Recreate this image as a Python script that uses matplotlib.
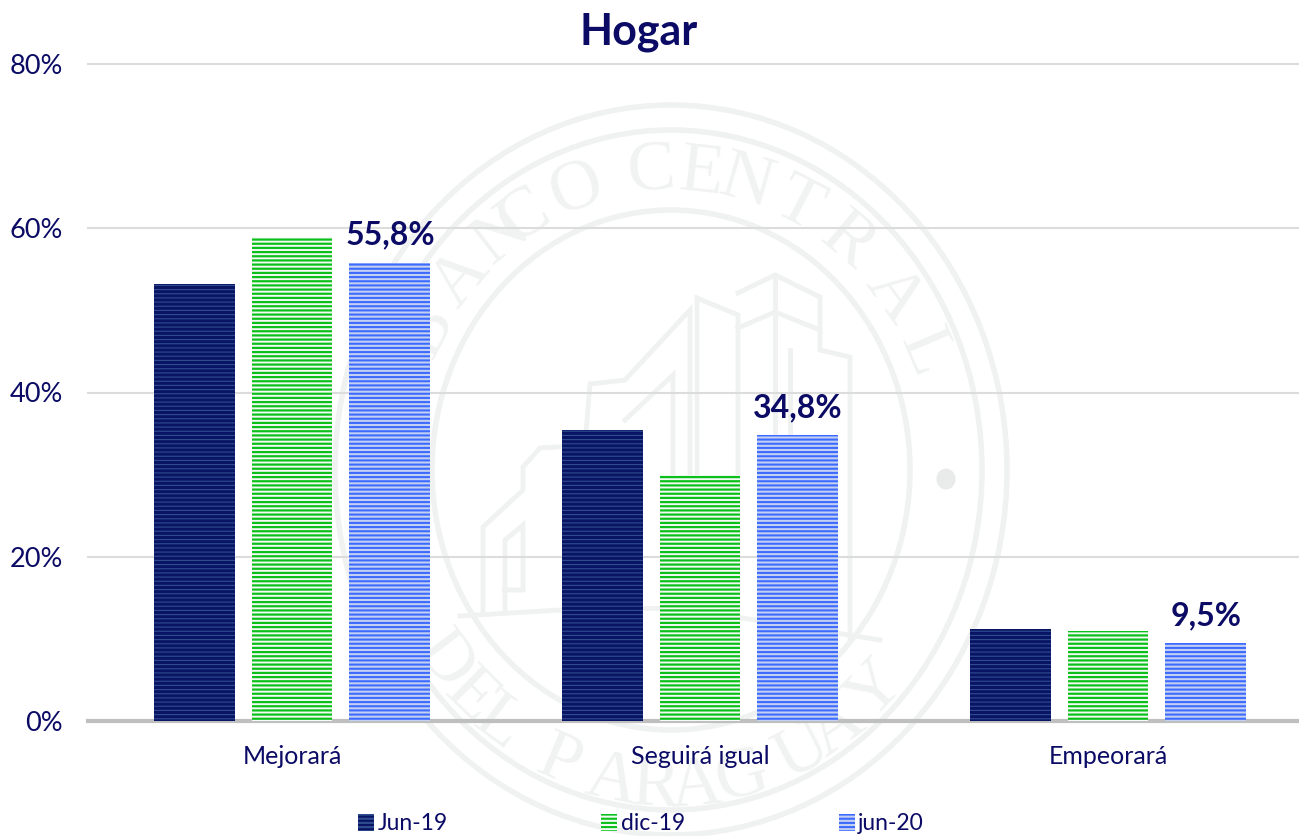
import matplotlib
matplotlib.use("Agg")
import matplotlib.pyplot as plt
from matplotlib.patches import Ellipse
import numpy as np

# Data
categories = ["Mejorará", "Seguirá igual", "Empeorará"]
series_names = ["Jun-19", "dic-19", "jun-20"]
jun19 = [53.2, 35.4, 11.2]
dic19 = [58.9, 29.9, 11.0]
jun20 = [55.8, 34.8, 9.5]
y_ticks = [0, 20, 40, 60, 80]
labels_jun20 = ["55,8%", "34,8%", "9,5%"]

# Style
W, H = 1299, 836
navy = "#0b0b66"
wm = "#eff2f1"
wm_text = "#f1f3f2"
plt.rcParams["font.family"] = ["Lato", "DejaVu Sans"]

fig = plt.figure(figsize=(W / 100, H / 100), dpi=100)
fig.patch.set_facecolor("white")

# Watermark seal, drawn in pixel coordinates behind the chart
bg = fig.add_axes([0, 0, 1, 1], zorder=0)
bg.set_xlim(0, W)
bg.set_ylim(H, 0)
bg.axis("off")
cx, cy = 671, 470
for rx, ry in [(336, 365), (311, 340), (239, 260)]:
    bg.add_patch(Ellipse((cx, cy), 2 * rx, 2 * ry, fill=False, ec=wm, lw=4))
bg.add_patch(Ellipse((946, 479), 19, 21, fc="#e9ebea", ec="none"))


def arc_text(word, angles, rx, ry, top=True):
    for ch, a in zip(word, angles):
        t = np.radians(a)
        x = cx + rx * np.sin(t)
        y = cy - ry * np.cos(t)
        rot = -a if top else 180 - a
        bg.text(x, y, ch, color=wm_text, fontsize=52, family="Liberation Serif",
                ha="center", va="center", rotation=rot, rotation_mode="anchor")


arc_text("BANCOCENTRAL", [-62, -50, -38, -32, -20, -4, 6.5, 16, 27.5, 40, 54, 67], 275, 298)
arc_text("DELPARAGUAY", [233, 224.5, 217, 203, 192, 183, 175, 165.5, 152.5, 144.5, 134],
         285, 318, top=False)

buildings = [
    [(483, 613), (483, 527), (523, 490), (523, 467), (540, 448), (590, 445)],
    [(505, 613), (505, 540), (523, 525), (523, 590), (505, 590)],
    [(585, 445), (590, 384), (625, 380), (690, 310), (690, 600)],
    [(625, 420), (673, 375), (673, 610)],
    [(697, 600), (697, 298), (738, 315), (738, 600)],
    [(738, 293), (775, 275), (820, 297), (820, 330), (775, 312), (738, 328)],
    [(775, 275), (775, 600)],
    [(820, 330), (820, 350), (850, 357), (850, 640)],
    [(790, 350), (790, 640)],
]
for b in buildings:
    xs, ys = zip(*b)
    bg.plot(xs, ys, color=wm, lw=3.5, solid_joinstyle="miter")
bg.plot([460, 560, 680, 880], [616, 610, 608, 640], color=wm, lw=3.5)

# Chart axes: x range runs slightly past the right edge like the reference
ax = fig.add_axes([88 / W, (H - 721) / H, 1224 / W, (721 - 64) / H], zorder=1)
ax.patch.set_alpha(0)
x = np.arange(len(categories))
bar_w = 0.1985
off = 0.24
styles = [("#0a1464", "#2f4d8f", 0.8), ("#f4fbf4", "#0cc01c", 1.6), ("#c3d0f2", "#3d6bff", 1.5)]
all_series = [jun19, dic19, jun20]
bars = []
for i, vals in enumerate(all_series):
    face, stripe, hatch_w = styles[i]
    plt.rcParams["hatch.linewidth"] = hatch_w
    b = ax.bar(x + (i - 1) * off, vals, bar_w, color=face, edgecolor=stripe,
               hatch="----", linewidth=0, label=series_names[i], zorder=3)
    bars.append(b)

for rect, txt in zip(bars[2], labels_jun20):
    ax.annotate(txt, (rect.get_x() + rect.get_width() / 2, rect.get_height()),
                xytext=(0, 13), textcoords="offset points", ha="center", va="baseline",
                color=navy, fontsize=23, fontweight="bold")

ax.set_xlim(-0.5, 2.5)
ax.set_ylim(0, 80)
ax.set_yticks(y_ticks)
ax.set_yticklabels([f"{v}%" for v in y_ticks], fontsize=19.5, color=navy)
ax.set_xticks(x)
ax.set_xticklabels(categories, fontsize=18, color=navy)
ax.tick_params(axis="both", length=0)
ax.tick_params(axis="y", pad=18)
ax.tick_params(axis="x", pad=17)
ax.grid(axis="y", color="#dcdcdc", linewidth=1.5, zorder=1)
for gl in ax.get_ygridlines():
    gl.set_clip_on(False)
ax.set_axisbelow(True)
for side in ["top", "right", "left"]:
    ax.spines[side].set_visible(False)
ax.spines["bottom"].set_color("#bfbfbf")
ax.spines["bottom"].set_linewidth(3)

fig.text(639 / W, 1 - 44 / H, "Hogar", ha="center", va="baseline",
         fontsize=31, color=navy, fontweight="bold")

ax.legend(loc="center", bbox_to_anchor=(641 / W, 1 - 824 / H), bbox_transform=fig.transFigure,
          ncol=3, frameon=False, fontsize=16.5, labelcolor=navy,
          handlelength=0.7, handleheight=0.7, handletextpad=0.15,
          columnspacing=6.7, borderpad=0, borderaxespad=0)

fig.savefig("out.png", dpi=100)
